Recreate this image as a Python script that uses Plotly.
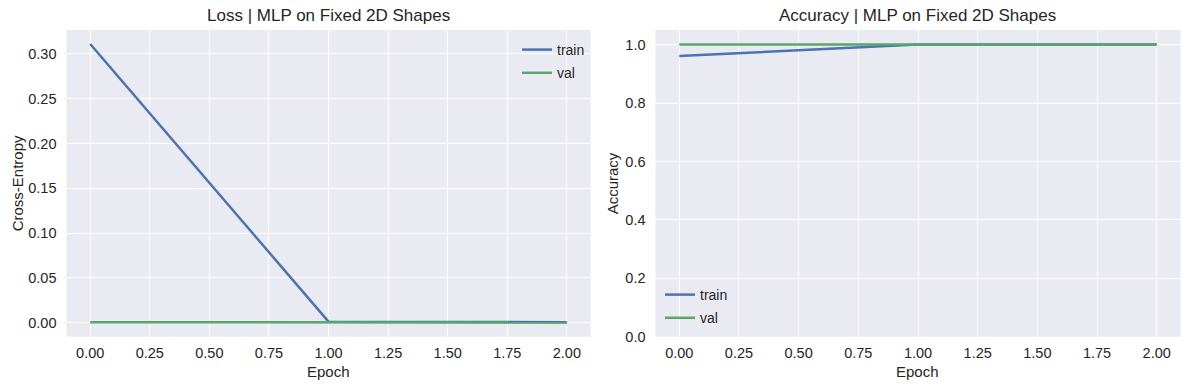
import plotly.graph_objects as go

epochs = [0, 1, 2]
train_loss = [0.311, 0.0012, 0.0006]
val_loss = [0.0005, 0.0005, 0.0004]
train_acc = [0.961, 1.0, 1.0]
val_acc = [1.0, 1.0, 1.0]

loss_ticks = [0.0, 0.05, 0.10, 0.15, 0.20, 0.25, 0.30]
acc_ticks = [0.0, 0.2, 0.4, 0.6, 0.8, 1.0]
epoch_ticks = [0.0, 0.25, 0.5, 0.75, 1.0, 1.25, 1.5, 1.75, 2.0]

BLUE = "#4C72B0"
GREEN = "#55A868"
BG = "#EAEAF2"
TXT = "#262626"
FONT = "Liberation Sans, Arial, sans-serif"

W, H = 1189, 390
def px(x):
    return x / W
def py(y):
    return (H - y) / H

LW = 2.5
fig = go.Figure()
fig.add_trace(go.Scatter(x=epochs, y=train_loss, mode="lines", name="train",
                         line=dict(color=BLUE, width=LW), xaxis="x", yaxis="y",
                         legend="legend", legendgroup="a"))
fig.add_trace(go.Scatter(x=epochs, y=val_loss, mode="lines", name="val",
                         line=dict(color=GREEN, width=LW), xaxis="x", yaxis="y",
                         legend="legend", legendgroup="b"))
fig.add_trace(go.Scatter(x=epochs, y=train_acc, mode="lines", name="train",
                         line=dict(color=BLUE, width=LW), xaxis="x2", yaxis="y2",
                         legend="legend2", legendgroup="c"))
fig.add_trace(go.Scatter(x=epochs, y=val_acc, mode="lines", name="val",
                         line=dict(color=GREEN, width=LW), xaxis="x2", yaxis="y2",
                         legend="legend2", legendgroup="d"))

axis_common = dict(showgrid=True, gridcolor="white", gridwidth=1.3, zeroline=False,
                   showline=False, ticks="outside", tickcolor="rgba(0,0,0,0)",
                   automargin=False,
                   tickfont=dict(family=FONT, size=14.5, color=TXT))

y_bot, y_top = py(336.7), py(30)
fig.update_layout(
    width=W, height=H,
    autosize=False,
    margin=dict(l=0, r=0, t=0, b=0, pad=0, autoexpand=False),
    paper_bgcolor="white", plot_bgcolor=BG,
    font=dict(family=FONT, color=TXT),
    xaxis=dict(domain=[px(66.4), px(590.7)], range=[-0.1, 2.1], tickvals=epoch_ticks,
               tickformat=".2f", anchor="y", ticklen=3, **axis_common),
    yaxis=dict(domain=[y_bot, y_top], range=[-0.01555, 0.32655], tickvals=loss_ticks,
               tickformat=".2f", anchor="x", ticklen=6, **axis_common),
    xaxis2=dict(domain=[px(655.4), px(1180.6)], range=[-0.1, 2.1], tickvals=epoch_ticks,
                tickformat=".2f", anchor="y2", ticklen=3, **axis_common),
    yaxis2=dict(domain=[y_bot, y_top], range=[0, 1.05], tickvals=acc_ticks,
                tickformat=".1f", anchor="x2", ticklen=6, **axis_common),
    legend=dict(x=px(590), xanchor="right", y=py(34), yanchor="top",
                bgcolor="rgba(0,0,0,0)", font=dict(family=FONT, size=14, color=TXT),
                tracegroupgap=2),
    legend2=dict(x=px(660), xanchor="left", y=py(334), yanchor="bottom",
                 bgcolor="rgba(0,0,0,0)", font=dict(family=FONT, size=14, color=TXT),
                 tracegroupgap=2),
    showlegend=True,
)

ann = []
ann.append(dict(text="Loss | MLP on Fixed 2D Shapes", x=px((66.4 + 590.7) / 2), y=py(16),
                xref="paper", yref="paper", showarrow=False, xanchor="center", yanchor="middle",
                font=dict(family=FONT, size=17, color=TXT)))
ann.append(dict(text="Accuracy | MLP on Fixed 2D Shapes", x=px((655.4 + 1180.6) / 2), y=py(16),
                xref="paper", yref="paper", showarrow=False, xanchor="center", yanchor="middle",
                font=dict(family=FONT, size=17, color=TXT)))
ann.append(dict(text="Epoch", x=px((66.4 + 590.7) / 2), y=py(371),
                xref="paper", yref="paper", showarrow=False, xanchor="center", yanchor="middle",
                font=dict(family=FONT, size=15, color=TXT)))
ann.append(dict(text="Epoch", x=px((655.4 + 1180.6) / 2), y=py(371),
                xref="paper", yref="paper", showarrow=False, xanchor="center", yanchor="middle",
                font=dict(family=FONT, size=15, color=TXT)))
ann.append(dict(text="Cross-Entropy", x=px(17), y=(y_bot + y_top) / 2, textangle=-90,
                xref="paper", yref="paper", showarrow=False, xanchor="center", yanchor="middle",
                font=dict(family=FONT, size=15, color=TXT)))
ann.append(dict(text="Accuracy", x=px(612), y=(y_bot + y_top) / 2, textangle=-90,
                xref="paper", yref="paper", showarrow=False, xanchor="center", yanchor="middle",
                font=dict(family=FONT, size=15, color=TXT)))
fig.update_layout(annotations=ann)

fig.write_html("out.html", config={"displayModeBar": False})

# remove the default page margin so the figure sits at the window origin
with open("out.html", "r", encoding="utf-8") as f:
    html = f.read()
html = html.replace("<head>", "<head><style>html,body{margin:0;padding:0;overflow:hidden;}</style>", 1)
with open("out.html", "w", encoding="utf-8") as f:
    f.write(html)
